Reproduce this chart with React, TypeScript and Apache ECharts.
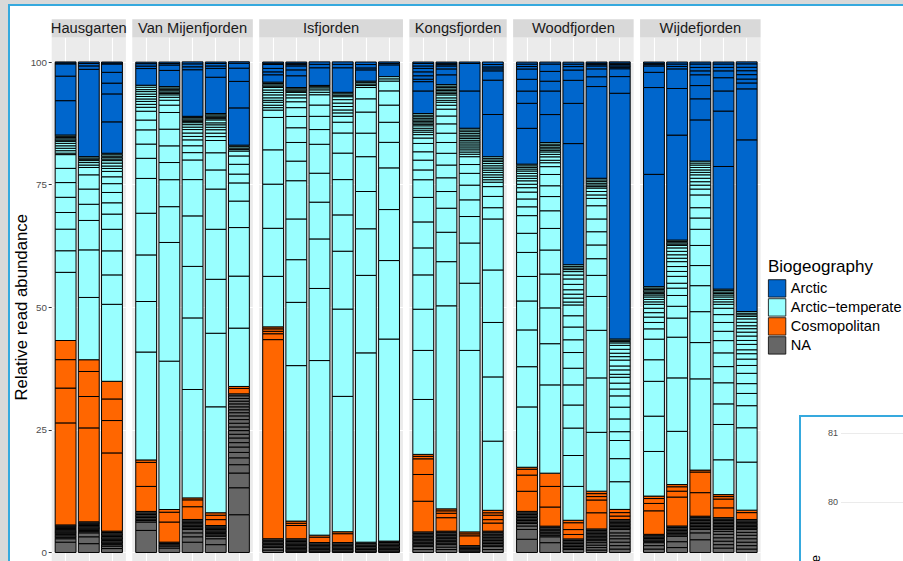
import React, { useEffect, useRef } from 'react';
import * as echarts from 'echarts';

const FONT = '"Liberation Sans", Arial, Helvetica, sans-serif';

const facetNames = ['Hausgarten', 'Van Mijenfjorden', 'Isfjorden', 'Kongsfjorden', 'Woodfjorden', 'Wijdefjorden'];
// stacking order, bottom to top
const groupKeys = ['na', 'cos', 'at', 'arc'];
const groupColors = ['#666666', '#FF6600', '#99FFFF', '#0066CC'];
const legendNames = ['Arctic', 'Arctic\u2212temperate', 'Cosmopolitan', 'NA'];
const legendColors = ['#0066CC', '#99FFFF', '#FF6600', '#666666'];
const yTicks = [0, 25, 50, 75, 100];
const insetTicks = [80, 81];

type Bar = { na: number[]; cos: number[]; at: number[]; arc: number[] };

const hausgarten: Bar[] = [
  { na: [2.1, 0.7, 0.3, 0.3, 0.3, 0.24, 0.24, 0.24, 0.24, 0.24, 0.24, 0.24, 0.24],
    cos: [20.8, 7.1, 5.8, 3.9],
    at: [13.9, 4.4, 4.4, 3.4, 3.1, 3.0, 2.9, 2.8, 0.3, 0.5, 0.5, 0.5, 0.5, 0.4, 0.26, 0.26, 0.26, 0.26, 0.26],
    arc: [7.0, 5.0, 2.5, 0.2, 0.2] },
  { na: [1.8, 1.4, 0.8, 0.25, 0.25, 0.25, 0.25, 0.25, 0.25, 0.25, 0.25, 0.25],
    cos: [19.15, 6.4, 5.1, 2.4],
    at: [12.7, 9.7, 6.0, 3.3, 3.1, 2.9, 1.5, 0.5, 0.5, 0.4, 0.27, 0.27, 0.27],
    arc: [17.8, 0.7, 0.5, 0.3] },
  { na: [0.8, 0.5, 0.3, 0.275, 0.275, 0.275, 0.275, 0.275, 0.275, 0.275, 0.275, 0.275, 0.275],
    cos: [15.95, 6.6, 4.4, 3.6],
    at: [15.7, 6.0, 4.9, 4.4, 3.1, 2.3, 2.1, 1.8, 1.4, 1.1, 0.6, 0.5, 0.6, 0.5, 0.3, 0.3, 0.3, 0.3, 0.3],
    arc: [6.4, 5.7, 2.2, 2.2, 1.7, 0.2, 0.2] },
];

const vanMijenfjorden: Bar[] = [
  { na: [4.5, 1.7, 0.31, 0.31, 0.31, 0.31, 0.31, 0.31, 0.31],
    cos: [5.1, 4.9, 0.5],
    at: [22.0, 10.3, 9.5, 8.5, 7.1, 4.1, 2.9, 2.9, 2.0, 1.8, 0.8, 0.6, 0.6, 0.5, 0.5, 0.5, 0.5, 0.4, 0.5, 0.4],
    arc: [3.4, 0.5, 0.5, 0.3] },
  { na: [0.9, 0.4, 0.27, 0.27, 0.27],
    cos: [4.1, 2.0, 0.55],
    at: [30.25, 24.2, 7.3, 5.5, 3.5, 3.4, 3.4, 3.4, 1.5, 1.0, 0.6, 0.5, 0.28, 0.28, 0.28, 0.28, 0.28, 0.28],
    arc: [3.3, 1.1, 0.3, 0.3] },
  { na: [2.1, 1.1, 0.8, 0.7, 0.29, 0.29, 0.29, 0.29, 0.29, 0.29, 0.29],
    cos: [2.6, 1.4, 0.4],
    at: [22.1, 14.6, 10.5, 10.3, 7.4, 4.0, 1.5, 1.4, 1.2, 0.7, 0.7, 0.7, 0.5, 0.5, 0.4, 0.26, 0.26, 0.26, 0.26, 0.26],
    arc: [9.5, 0.6, 0.6, 0.4] },
  { na: [1.6, 1.2, 0.5, 0.275, 0.275, 0.275, 0.275, 0.275, 0.275, 0.275, 0.275],
    cos: [1.2, 0.9, 0.5],
    at: [21.6, 15.0, 11.0, 10.2, 8.2, 3.9, 3.5, 2.5, 0.8, 0.7, 0.7, 0.5, 0.5, 0.4, 0.6, 0.26, 0.26, 0.26, 0.26, 0.26],
    arc: [7.4, 1.8, 0.5, 0.5, 0.3] },
  { na: [7.7, 5.5, 3.0, 1.7, 1.4, 1.1, 1.1, 0.9, 0.95, 0.75, 0.75, 0.75, 0.75, 0.75, 0.75, 0.65, 0.6, 0.6, 0.6, 0.55, 0.55, 0.55, 0.4],
    cos: [1.1, 0.4],
    at: [11.9, 10.6, 9.9, 5.4, 3.7, 1.8, 2.0, 1.7, 1.0, 0.3, 0.3, 0.3, 0.3],
    arc: [7.6, 5.4, 2.7, 1.0, 0.3] },
];

const isfjorden: Bar[] = [
  { na: [0.5, 0.5, 0.3, 0.3, 0.3, 0.3, 0.3, 0.3],
    cos: [40.6, 1.2, 0.5, 0.5, 0.4],
    at: [10.3, 9.8, 9.0, 7.0, 6.6, 1.5, 0.5, 0.5, 0.6, 0.4, 0.5, 0.6, 0.5, 0.5, 0.5, 0.275, 0.275, 0.275, 0.275],
    arc: [1.5, 0.6, 0.7, 0.8, 0.25, 0.25] },
  { na: [0.28, 0.28, 0.28, 0.28, 0.28, 0.28, 0.28, 0.28, 0.28, 0.28],
    cos: [2.7, 0.45, 0.45],
    at: [31.7, 12.9, 8.7, 8.3, 7.8, 4.0, 3.8, 3.0, 2.3, 1.8, 1.2, 0.8, 0.6, 0.5, 0.25, 0.25, 0.25, 0.25],
    arc: [2.4, 1.2, 0.8, 0.27, 0.27, 0.26] },
  { na: [0.29, 0.29, 0.29, 0.29, 0.29, 0.29, 0.29],
    cos: [1.1, 0.4],
    at: [35.6, 14.7, 10.1, 7.5, 5.9, 5.9, 3.0, 2.7, 2.3, 2.1, 0.5, 0.5, 0.4, 0.25, 0.25],
    arc: [3.6, 0.7, 0.5] },
  { na: [0.29, 0.29, 0.29, 0.29, 0.29, 0.29, 0.29],
    cos: [1.8, 0.4],
    at: [27.6, 17.8, 11.8, 7.4, 7.2, 5.4, 4.1, 2.2, 1.2, 0.7, 0.6, 0.7, 0.7, 0.7, 0.6, 0.3, 0.3, 0.3],
    arc: [5.0, 0.7, 0.5] },
  { na: [0.3, 0.3, 0.3, 0.3, 0.3, 0.3, 0.3],
    cos: [],
    at: [38.6, 15.8, 9.5, 7.6, 7.1, 4.8, 4.3, 2.7, 2.3, 0.4, 0.3, 0.3, 0.3],
    arc: [2.3, 0.4, 0.7, 0.5] },
  { na: [0.29, 0.29, 0.29, 0.29, 0.29, 0.29, 0.29, 0.29],
    cos: [],
    at: [41.2, 16.0, 10.4, 8.5, 5.2, 4.1, 3.5, 2.9, 2.0, 0.45, 0.45],
    arc: [2.4, 0.3, 0.3] },
];

const kongsfjorden: Bar[] = [
  { na: [0.6, 0.6, 0.3, 0.3, 0.3, 0.3, 0.3, 0.3, 0.3, 0.3, 0.3, 0.3],
    cos: [6.25, 5.45, 3.2, 0.5, 0.4],
    at: [11.2, 10.0, 8.4, 7.0, 5.5, 5.3, 5.0, 3.6, 2.0, 2.0, 1.7, 1.7, 1.1, 0.7, 0.5, 0.4, 0.4, 0.5, 0.3, 0.3, 0.3, 0.3, 0.325, 0.325, 0.325, 0.325],
    arc: [4.6, 1.9, 0.5, 0.7, 0.8, 0.7, 0.5, 0.5, 0.3] },
  { na: [0.6, 0.5, 0.5, 0.305, 0.305, 0.305, 0.305, 0.305, 0.305, 0.305, 0.305, 0.305],
    cos: [2.75, 0.9, 0.5, 0.4],
    at: [41.4, 9.0, 6.0, 4.9, 3.4, 2.8, 2.6, 2.4, 2.2, 1.9, 1.9, 1.6, 1.4, 0.8, 0.6, 0.4, 0.5, 0.6, 0.3, 0.3, 0.3, 0.3, 0.3, 0.3, 0.3],
    arc: [2.0, 1.2, 0.6, 0.27, 0.27, 0.26] },
  { na: [0.28, 0.28, 0.28, 0.28, 0.28],
    cos: [2.0, 0.4, 0.4],
    at: [37.0, 13.7, 8.2, 5.4, 3.4, 3.0, 2.4, 1.8, 1.6, 0.5, 0.45, 0.45, 0.4, 0.4, 0.4, 0.4, 0.35, 0.35, 0.35, 0.35, 0.35, 0.35, 0.35, 0.35],
    arc: [7.6, 5.6, 0.3] },
  { na: [0.6, 0.6, 0.315, 0.315, 0.315, 0.315, 0.315, 0.315, 0.315, 0.315, 0.315, 0.315],
    cos: [1.65, 0.7, 0.9, 0.5, 0.5],
    at: [14.1, 13.1, 11.1, 10.7, 10.4, 2.3, 2.3, 2.0, 0.9, 0.5, 0.5, 0.5, 0.5, 0.45, 0.45, 0.45, 0.45, 0.4, 0.33, 0.33, 0.34],
    arc: [8.6, 7.0, 1.9, 0.4, 0.4, 0.5, 0.5] },
];

const woodfjorden: Bar[] = [
  { na: [2.7, 2.0, 0.7, 0.5, 0.31, 0.31, 0.31, 0.31, 0.31, 0.31, 0.31, 0.31],
    cos: [4.1, 3.3, 1.2, 0.4],
    at: [12.3, 8.2, 7.5, 5.9, 5.0, 4.9, 3.9, 3.6, 1.8, 1.6, 1.4, 0.9, 0.7, 0.7, 0.5, 0.5, 0.5, 0.5, 0.4, 0.33, 0.33, 0.34],
    arc: [7.3, 5.1, 2.5, 2.4, 2.1, 0.5, 0.5, 0.4] },
  { na: [2.0, 1.2, 0.31, 0.31, 0.31, 0.31, 0.31, 0.31, 0.31],
    cos: [3.9, 4.2, 2.7],
    at: [18.0, 8.4, 7.3, 6.9, 4.9, 4.4, 3.6, 2.9, 2.2, 2.3, 1.6, 0.8, 0.5, 0.7, 0.5, 0.5, 0.32, 0.32, 0.32, 0.32, 0.32, 0.32],
    arc: [5.7, 4.8, 2.0, 2.0, 1.5, 0.4] },
  { na: [0.6, 0.31, 0.31, 0.31, 0.31, 0.31, 0.31, 0.31],
    cos: [0.9, 1.0, 1.4, 0.5],
    at: [6.9, 6.3, 5.6, 4.7, 4.1, 3.4, 3.2, 2.6, 2.6, 2.3, 2.2, 0.6, 0.8, 0.8, 0.9, 1.1, 1.1, 0.8, 0.7, 0.4, 0.33, 0.33, 0.34],
    arc: [24.7, 8.2, 4.7, 2.1, 0.7, 0.5, 0.4] },
  { na: [0.5, 0.5, 0.5, 0.5, 0.4, 0.3, 0.3, 0.3, 0.3, 0.3, 0.3, 0.3, 0.3],
    cos: [3.3, 2.6, 0.7, 0.6, 0.5],
    at: [12.0, 11.1, 9.7, 6.9, 4.3, 3.4, 2.8, 2.7, 2.6, 2.7, 1.5, 0.7, 0.7, 0.7, 0.3, 0.34, 0.34, 0.34, 0.34, 0.34],
    arc: [18.7, 2.0, 1.6, 0.6, 0.27, 0.27, 0.26] },
  { na: [0.7, 0.7, 0.7, 0.7, 0.6, 0.6, 0.7, 0.29, 0.29, 0.29, 0.29, 0.29, 0.29, 0.29],
    cos: [0.7, 0.7, 0.65],
    at: [5.65, 4.7, 3.7, 1.8, 2.6, 2.4, 2.3, 1.4, 1.2, 1.2, 0.6, 0.9, 0.8, 1.2, 0.7, 0.7, 0.8, 0.8, 0.5, 0.27, 0.27, 0.26],
    arc: [50.1, 3.4, 1.6, 0.3, 0.275, 0.275, 0.275, 0.275] },
];

const wijdefjorden: Bar[] = [
  { na: [0.7, 0.7, 0.6, 0.283, 0.283, 0.283, 0.283, 0.283, 0.283],
    cos: [4.8, 1.5, 1.0, 0.5],
    at: [9.1, 7.2, 7.1, 4.4, 4.2, 2.1, 1.3, 1.1, 0.9, 0.9, 0.8, 0.5, 0.5, 0.5, 0.4, 0.283, 0.283, 0.283, 0.283, 0.283, 0.283],
    arc: [22.9, 17.7, 3.1, 1.3, 0.27, 0.27, 0.26] },
  { na: [1.0, 1.2, 1.1, 0.3, 0.3, 0.3, 0.3, 0.3, 0.3, 0.3],
    cos: [5.9, 1.2, 0.9, 0.45],
    at: [10.85, 10.9, 8.3, 3.9, 2.4, 2.2, 1.5, 1.0, 1.4, 1.0, 1.0, 1.0, 0.7, 0.7, 0.7, 0.7, 0.5, 0.275, 0.275, 0.275, 0.275],
    arc: [21.4, 9.5, 4.0, 0.5, 0.5, 0.4] },
  { na: [2.6, 1.4, 0.7, 0.3, 0.3, 0.3, 0.3, 0.3, 0.3, 0.3, 0.3, 0.3],
    cos: [4.8, 4.2, 0.4],
    at: [18.6, 7.4, 6.3, 5.3, 4.1, 4.1, 3.3, 2.3, 2.1, 2.6, 1.2, 0.8, 0.7, 0.7, 0.7, 0.5, 0.5, 0.5, 0.5, 0.4, 0.4],
    arc: [8.4, 4.3, 2.7, 2.2, 0.8, 0.7, 0.7, 0.4] },
  { na: [0.9, 0.7, 0.7, 0.7, 0.7, 0.6, 0.4, 0.3, 0.3, 0.3, 0.3, 0.3, 0.3, 0.3, 0.3],
    cos: [2.0, 1.8, 0.5, 0.4],
    at: [7.1, 7.2, 4.2, 4.3, 3.3, 2.8, 2.5, 1.9, 1.8, 1.6, 1.3, 0.8, 0.5, 0.5, 0.5, 0.4, 0.3, 0.3, 0.3, 0.3],
    arc: [25.0, 11.3, 4.1, 2.7, 1.4, 0.7, 0.7, 0.4] },
  { na: [0.7, 0.7, 0.7, 0.7, 0.7, 0.6, 0.6, 0.29, 0.29, 0.29, 0.29, 0.29, 0.29, 0.29],
    cos: [1.4, 0.5],
    at: [9.8, 7.0, 4.5, 2.5, 2.0, 2.1, 1.6, 1.3, 1.1, 0.8, 1.1, 0.8, 0.9, 0.8, 0.7, 0.6, 0.7, 0.7, 0.5, 0.33, 0.33, 0.34],
    arc: [35.0, 10.4, 1.2, 0.8, 0.9, 0.8, 0.7, 0.7, 0.4] },
];

const facets: Bar[][] = [hausgarten, vanMijenfjorden, isfjorden, kongsfjorden, woodfjorden, wijdefjorden];

// layout
const VIEW_W = 903;
const VIEW_H = 561;
const CHART_H = 640;
const PANEL_LEFT = 51.7;
const PANEL_RIGHT = 760.6;
const GAP = 6.4;
const PANEL_TOP = 37.5;
const PANEL_H = 539.5;
const STRIP_TOP = 19.3;
const STRIP_H = 18.2;
const BLUE = '#36a9de';

function buildSegments(bars: Bar[]) {
  const out: number[][] = [];
  bars.forEach((bar, j) => {
    let base = 0;
    groupKeys.forEach((k, g) => {
      (bar as any)[k].forEach((h: number) => {
        out.push([j + 1, base, base + h, g]);
        base += h;
      });
    });
  });
  return out;
}

function buildOption() {
  const counts = facets.map((f) => f.length);
  const totalUnits = counts.reduce((s, n) => s + n + 0.2, 0);
  const unit = (PANEL_RIGHT - PANEL_LEFT - GAP * (facets.length - 1)) / totalUnits;
  const lefts: number[] = [];
  const widths: number[] = [];
  let x = PANEL_LEFT;
  counts.forEach((n) => {
    lefts.push(x);
    const w = (n + 0.2) * unit;
    widths.push(w);
    x += w + GAP;
  });

  const grids: any[] = facets.map((_, i) => ({
    left: lefts[i], top: PANEL_TOP, width: widths[i], height: PANEL_H,
    show: true, backgroundColor: '#ebebeb', borderWidth: 0, containLabel: false,
  }));
  grids.push({ left: 841, top: 419.2, width: 120, height: 117.3, show: false, containLabel: false });

  const xAxes: any[] = facets.map((f, i) => {
    const centers = f.map((_, j) => j + 1);
    return {
      type: 'value', gridIndex: i, min: 0.4, max: f.length + 0.6,
      axisLine: { show: false },
      axisTick: { show: false, customValues: centers },
      axisLabel: { show: false, customValues: centers },
      splitLine: { show: true, lineStyle: { color: '#ffffff', width: 1.1 } },
    };
  });
  xAxes.push({ type: 'value', gridIndex: 6, min: 0, max: 1, show: false });

  const yAxes: any[] = facets.map((_, i) => ({
    type: 'value', gridIndex: i, min: -5, max: 105,
    axisLine: { show: false },
    axisTick: { show: i === 0, length: 3, customValues: yTicks, lineStyle: { color: '#333333', width: 1 } },
    axisLabel: { show: i === 0, customValues: yTicks, margin: 4.7, fontSize: 9.8, color: '#4d4d4d', fontFamily: FONT },
    splitLine: { show: true, lineStyle: { color: '#ffffff', width: 1.1 } },
  }));
  yAxes.push({
    type: 'value', gridIndex: 6, min: 79.5, max: 81.2,
    axisLine: { show: false },
    axisTick: { show: false, customValues: insetTicks },
    axisLabel: { show: true, customValues: insetTicks, margin: 3, fontSize: 9, color: '#4d4d4d', fontFamily: FONT },
    splitLine: { show: true, lineStyle: { color: '#ebebeb', width: 1 } },
  });

  const series: any[] = facets.map((bars, i) => ({
    type: 'custom',
    name: facetNames[i],
    xAxisIndex: i,
    yAxisIndex: i,
    silent: true,
    encode: { x: 0, y: [1, 2] },
    data: buildSegments(bars),
    renderItem: (params: any, api: any) => {
      const cx = api.value(0);
      const y0 = api.value(1);
      const y1 = api.value(2);
      const g = api.value(3);
      const pBottom = api.coord([cx, y0]);
      const pTop = api.coord([cx, y1]);
      const w = api.size([0.9, 0])[0];
      return {
        type: 'rect',
        shape: { x: pBottom[0] - w / 2, y: pTop[1], width: w, height: pBottom[1] - pTop[1] },
        style: { fill: groupColors[g], stroke: '#000000', lineWidth: 1 },
      };
    },
  }));

  legendNames.forEach((name, k) => {
    series.push({
      type: 'bar', name, xAxisIndex: 0, yAxisIndex: 0, data: [],
      itemStyle: { color: legendColors[k], borderColor: '#000', borderWidth: 0.8 },
    });
  });

  const elements: any[] = [
    { type: 'rect', z: -20, silent: true, shape: { x: 9, y: 5, width: 1000, height: 1000 },
      style: { fill: '#ffffff', stroke: BLUE, lineWidth: 2 } },
    { type: 'rect', z: -19, silent: true, shape: { x: 800, y: 416, width: 200, height: 300 },
      style: { fill: '#ffffff', stroke: BLUE, lineWidth: 2 } },
  ];
  facets.forEach((_, i) => {
    elements.push({ type: 'rect', z: 5, silent: true,
      shape: { x: lefts[i], y: STRIP_TOP, width: widths[i], height: STRIP_H },
      style: { fill: '#d9d9d9' } });
    elements.push({ type: 'text', z: 6, silent: true,
      x: lefts[i] + widths[i] / 2, y: STRIP_TOP + STRIP_H / 2 - 0.5,
      style: { text: facetNames[i], fontSize: 14.7, fontFamily: FONT, fill: '#1a1a1a', align: 'center', verticalAlign: 'middle' } });
  });
  elements.push({ type: 'text', z: 6, silent: true, x: 21.7, y: PANEL_TOP + PANEL_H / 2, rotation: Math.PI / 2,
    style: { text: 'Relative read abundance', fontSize: 16.8, fontFamily: FONT, fill: '#000000', align: 'center', verticalAlign: 'middle' } });
  elements.push({ type: 'text', z: 6, silent: true, x: 768, y: 266.3,
    style: { text: 'Biogeography', fontSize: 17, fontFamily: FONT, fill: '#000000', align: 'left', verticalAlign: 'middle' } });
  elements.push({ type: 'text', z: 6, silent: true, x: 815, y: 555, rotation: Math.PI / 2,
    style: { text: 'Latitude', fontSize: 13, fontFamily: FONT, fill: '#000000', align: 'right', verticalAlign: 'middle' } });

  return {
    animation: false,
    backgroundColor: '#d9d9d9',
    grid: grids,
    xAxis: xAxes,
    yAxis: yAxes,
    series,
    legend: {
      show: true, orient: 'vertical', left: 768, top: 279.3, padding: 0,
      itemWidth: 17.4, itemHeight: 17.4, itemGap: 0.8, icon: 'rect', selectedMode: false,
      data: legendNames,
      itemStyle: { borderColor: '#000000', borderWidth: 0.8 },
      textStyle: { fontSize: 14.6, color: '#000000', fontFamily: FONT },
    },
    graphic: { elements },
  };
}

export default function App() {
  const ref = useRef<HTMLDivElement>(null);
  useEffect(() => {
    document.body.style.margin = '0';
    document.body.style.overflow = 'hidden';
    const chart = echarts.init(ref.current as HTMLDivElement, undefined, { renderer: 'svg' });
    chart.setOption(buildOption() as any);
    return () => chart.dispose();
  }, []);
  return (
    <div style={{ position: 'absolute', left: 0, top: 0, width: VIEW_W, height: VIEW_H, overflow: 'hidden' }}>
      <div ref={ref} style={{ width: VIEW_W, height: CHART_H }} />
    </div>
  );
}
